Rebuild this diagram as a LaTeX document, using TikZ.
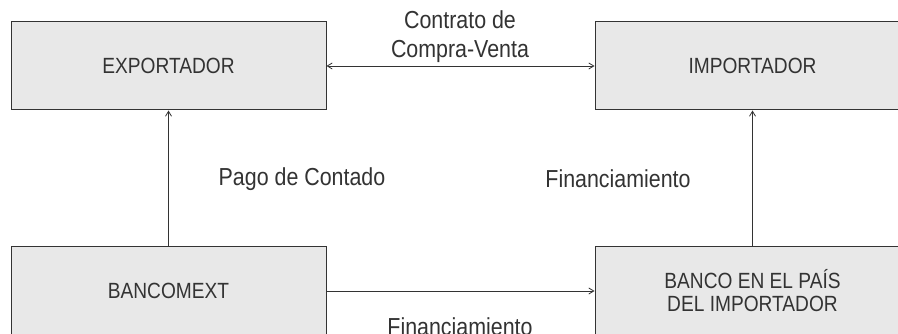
\documentclass[tikz,border=0pt]{standalone}
\usepackage{fontspec}
\setmainfont{Liberation Sans}[FakeStretch=0.87]
\usetikzlibrary{arrows.meta}
\definecolor{boxfill}{HTML}{E8E8E8}
\definecolor{ink}{HTML}{333333}
\tikzset{
  box/.style={draw=ink, fill=boxfill, line width=1pt, minimum width=315pt, minimum height=88pt,
    inner sep=0pt, text=ink, align=center, font=\fontsize{22}{26}\selectfont},
  lbl/.style={text=ink, align=center, inner sep=0pt, font=\fontsize{24.6}{29}\selectfont},
  conn/.style={draw=ink, line width=0.8pt, -{Straight Barb[length=5pt,width=6pt]}},
  dconn/.style={draw=ink, line width=0.8pt, {Straight Barb[length=5pt,width=6pt]}-{Straight Barb[length=5pt,width=6pt]}}
}
\begin{document}
\begin{tikzpicture}[x=1pt,y=-1pt]
\clip (0,0) rectangle (898,334);
\fill[white] (0,0) rectangle (898,334);
\node[box] (exp) at (168.5,66) {EXPORTADOR};
\node[box] (imp) at (752.5,66) {IMPORTADOR};
\node[box] (bmx) at (168.5,291) {BANCOMEXT};
\node[box] (bco) at (752.5,291) {BANCO EN EL PAÍS\\[-3pt]DEL IMPORTADOR};
\draw[dconn] (exp.east) -- (imp.west);
\draw[conn] (bmx.north) -- (exp.south);
\draw[conn] (bco.north) -- (imp.south);
\draw[conn] (bmx.east) -- (bco.west);
\node[lbl, anchor=base] (cv) at (460,58) {Contrato de\\Compra-Venta};
\node[lbl] (pago) at (302,179) {Pago de Contado};
\node[lbl] (fin1) at (618,179) {Financiamiento};
\node[lbl, anchor=base] (fin2) at (460,335) {Financiamiento};
\end{tikzpicture}
\end{document}
